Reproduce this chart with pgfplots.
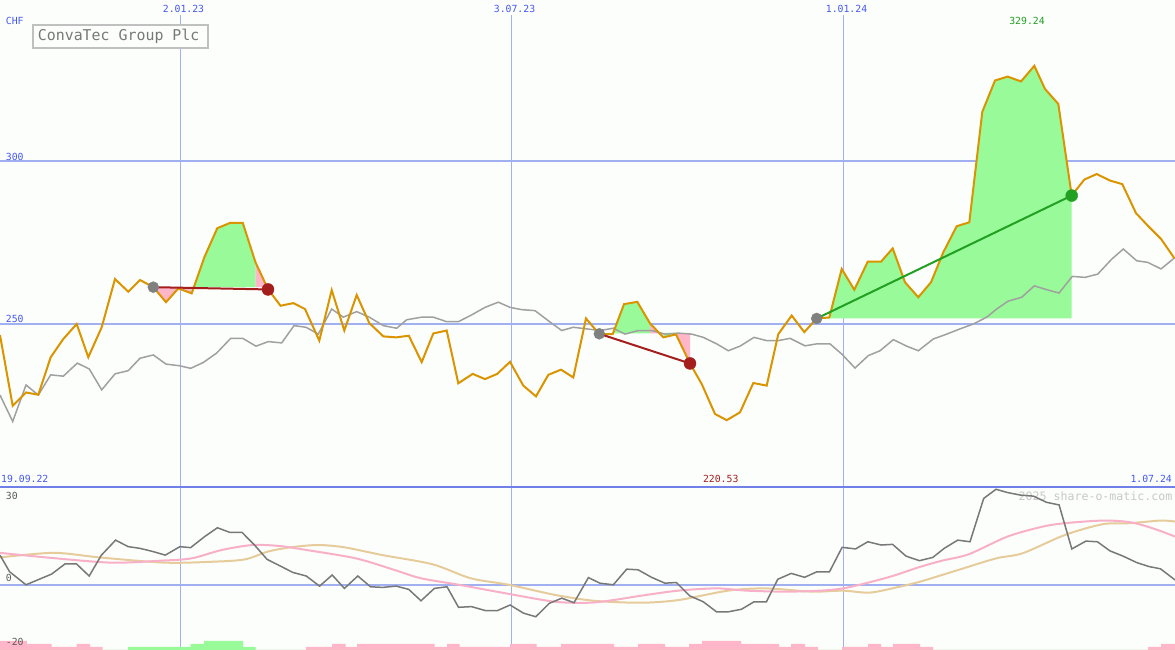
\documentclass[border=0pt]{standalone}
\usepackage{pgfplots}
\pgfplotsset{compat=1.18}
\usepackage{fontspec}
\newfontfamily\mono{DejaVu Sans Mono}
\definecolor{bgc}{RGB}{252,254,252}
\definecolor{gridc}{RGB}{160,176,240}
\definecolor{sepc}{RGB}{112,128,232}
\definecolor{bluet}{RGB}{70,88,240}
\definecolor{orangel}{RGB}{218,148,0}
\definecolor{grayl}{RGB}{160,160,160}
\definecolor{greenf}{RGB}{152,250,152}
\definecolor{pinkf}{RGB}{255,182,200}
\definecolor{darkredc}{RGB}{165,30,30}
\definecolor{greenc}{RGB}{34,160,34}
\definecolor{dotgray}{RGB}{128,128,128}
\definecolor{dgray}{RGB}{120,120,120}
\definecolor{pinkl}{RGB}{248,176,200}
\definecolor{tanl}{RGB}{230,204,154}
\definecolor{wmgray}{RGB}{200,200,200}
\definecolor{labgray}{RGB}{90,90,90}
\definecolor{boxgray}{RGB}{192,192,192}
\definecolor{titlegray}{RGB}{120,120,120}
\pgfplotsset{chartaxis/.style={scale only axis, width=1175pt, xmin=0, xmax=1175,
  axis line style={draw=none}, tick style={draw=none}, xticklabels={}, yticklabels={},
  grid=major, x grid style={gridc, line width=1pt}, y grid style={gridc, line width=2pt}}}
\newcommand{\lf}{\mono\fontsize{9.8}{11}\selectfont}
\begin{document}
\begin{tikzpicture}[x=1pt,y=1pt]
\fill[bgc] (0,0) rectangle (1175,650);
\node[anchor=base, text=wmgray, font=\mono\fontsize{11.6}{13}\selectfont, inner sep=0] at (1095.5,149.5) {2025 share-o-matic.com};
% ---------- lower panel ----------
\begin{axis}[chartaxis, at={(0pt,0pt)}, anchor=south west, height=163pt, ymin=-20, ymax=30, xtick={180.5,511.5,843.5}, ytick={0}]
\addplot[tanl, line width=2pt, smooth] coordinates {
(0,8.4)(53.6,9.8)(99.5,8.4)(164.6,6.8)(214.3,7.1)(245,7.8)(268,10.2)(290.8,11.5)(317.6,12.2)(344.4,11.5)(382.7,9.1)(432.5,6.3)(470.7,2.0)(509,0)(555,-3.1)(594,-4.9)(640,-5.5)(678,-4.7)(728,-1.8)(766,-1.1)(812,-2.1)(843,-1.8)(869.7,-2.4)(896.5,-0.8)(919.4,0.9)(957.7,4.5)(996,8.1)(1022.8,9.7)(1065,15.3)(1103,18.6)(1130,18.9)(1160.5,19.7)(1175,19.4)};
\addplot[pinkl, line width=2pt, smooth] coordinates {
(0,9.8)(46,8.4)(111,6.8)(160.7,7.4)(191.4,8.1)(222,10.7)(252.6,12.2)(279.4,11.9)(306,10.7)(356,8.1)(394,4.6)(421,2.0)(459,0)(509,-2.8)(555,-5.2)(589,-5.5)(613,-4.7)(640,-3.4)(678,-1.8)(716.6,-1.1)(747,-1.8)(785.5,-2.1)(820,-1.8)(843,-1.1)(866,0.5)(892.6,2.7)(919,5.4)(942,7.4)(969,9.4)(1007.5,14.8)(1042,17.8)(1065,18.9)(1103,19.7)(1130,19.2)(1153,17.3)(1175,14.8)};
\addplot[dgray, line width=1.5pt] coordinates {
(0,9.1)(9.6,4.0)(26,0)(51.7,3.3)(65,6.4)(76.5,6.4)(89.2,2.7)(101.4,9.1)(115.6,13.7)(128.2,11.7)(139.7,11.2)(153,10.2)(165.3,9.1)(179.9,11.7)(190.6,11.4)(204.7,14.8)(217.4,17.5)(229.6,16.1)(241.9,16.1)(254.5,12.2)(267.1,7.8)(281.3,5.6)(292.8,3.8)(306.2,2.7)(319.6,-0.4)(332.2,3.0)(344.4,-1.1)(357.8,2.7)(370.5,-0.6)(382.7,-0.8)(396.1,-0.4)(408.7,-1.4)(421,-4.9)(434.4,-1.1)(447,-0.6)(458.5,-6.9)(471.5,-6.7)(485.3,-7.9)(497.5,-7.9)(510.1,-6.2)(523.5,-8.7)(535.8,-9.8)(549.2,-5.7)(561.8,-4.1)(574,-5.5)(588.4,2.2)(599.9,0.5)(613.3,0)(626.7,4.8)(638.1,4.6)(651.5,2.3)(664.9,0.5)(676.4,0.7)(689.8,-3.4)(703.2,-5.2)(716.6,-8.3)(728.1,-8.3)(741.5,-7.5)(754.1,-5.2)(766.4,-5.2)(777.8,1.7)(791.2,3.5)(804.6,2.3)(816.9,4.0)(829.5,4.0)(842.1,11.5)(855.5,11.0)(867.8,13.2)(881.2,12.2)(892.6,12.4)(906,8.8)(919.4,7.4)(932.8,8.4)(944.3,11.2)(957.7,13.7)(970,13.2)(983.7,26.5)(996,29.3)(1007.5,28.3)(1020.8,27.5)(1033.5,27.2)(1046.5,25.3)(1059.1,24.5)(1071.8,11.0)(1085.9,13.4)(1097.4,13.2)(1110,10.4)(1123,8.8)(1136.8,6.8)(1149,5.6)(1160.5,4.9)(1175,1.5)};
\end{axis}
% ---------- bars ----------
\begin{axis}[at={(0pt,0pt)}, anchor=south west, scale only axis, width=1175pt, height=163pt, xmin=0, xmax=1175, ymin=0, ymax=54.333, hide axis]
\addplot[const plot, fill=pinkf, draw=none] coordinates {
(0,3)(26.8,2)(51.7,1)(76.5,2)(90,1)(102.6,0)(306,1)(332,2)(345.6,1)(357,2)(434.7,1)(447,2)(459.6,1)(510,2)(536.5,1)(561,2)(614,1)(638,2)(665,1)(689,2)(702,3)(741,2)(779,1)(791,2)(805,1)(818,0)(842,1)(868,2)(881,1)(893,2)(920,1)(933,0)(1148,1)(1161,2)(1175,2)} \closedcycle;
\addplot[const plot, fill=greenf, draw=none] coordinates {
(0,0)(128.2,1)(190.6,2)(204,3)(243,1)(255.6,0)(1175,0)} \closedcycle;
\end{axis}
% ---------- upper panel ----------
\begin{axis}[chartaxis, at={(0pt,163pt)}, anchor=south west, height=472pt, ymin=200, ymax=344.79, xtick={180.5,511.5,843.5}, ytick={250,300}]
% trade fills
\addplot[fill=pinkf, draw=none] coordinates {(153.3,261.3)(166,256.7)(178.3,260.9)(191.7,259.4)(191.7,261.3)} --cycle;
\addplot[fill=greenf, draw=none] coordinates {(191.7,261.3)(191.7,259.4)(204.5,270.6)(217.3,279.4)(230,281)(242.8,281)(255.5,268.9)(255.5,261.3)} --cycle;
\addplot[fill=pinkf, draw=none] coordinates {(255.5,261.3)(255.5,268.9)(268,260.7)(268,261.3)} --cycle;
\addplot[fill=greenf, draw=none] coordinates {(599.3,247.1)(612.7,246.9)(624,256.1)(637.3,256.8)(650,250.2)(650,247.1)} --cycle;
\addplot[fill=pinkf, draw=none] coordinates {(650,247.1)(650,250.2)(663.3,245.9)(663.3,247.1)} --cycle;
\addplot[fill=greenf, draw=none] coordinates {(663.3,247.3)(663.3,245.9)(676,246.8)(676,247.3)} --cycle;
\addplot[fill=pinkf, draw=none] coordinates {(676,247.1)(676,246.8)(690,237.9)(690,247.1)} --cycle;
\addplot[fill=greenf, draw=none] coordinates {(816.7,251.7)(829.3,252.0)(841.7,266.9)(854.3,260.5)(867.7,269.1)(881,269.1)(892.7,273.2)(905,262.8)(918.3,258.2)(931,262.8)(943.3,272.0)(956.7,280.0)(969.3,281.2)(982.3,315.1)(995,324.7)(1007.7,325.9)(1021,324.4)(1034.3,329.2)(1045,322.1)(1058.3,317.5)(1071.7,289.4)(1071.7,251.7)} --cycle;
% comparison line
\addplot[grayl, line width=1.5pt] coordinates {
(0,228.2)(12.7,220.1)(26,231.3)(38.3,228.2)(50.7,234.4)(63.3,234.0)(77.3,238.0)(89.3,236.2)(101.7,229.8)(115,234.7)(128.3,235.7)(140,239.5)(153.3,240.5)(166,237.7)(179.3,237.2)(190.7,236.4)(203.3,238.2)(216.7,241.1)(230.7,245.6)(242.7,245.6)(256,243.2)(268.3,244.6)(281.7,244.2)(294,249.5)(306,249.0)(318.3,246.9)(331.7,254.6)(343.3,252.1)(356.7,253.8)(369.3,252.1)(383.3,249.5)(396.7,248.7)(406.7,251.3)(421.7,252.1)(433.3,252.1)(446.7,250.7)(458.3,250.7)(471.7,252.8)(485,255.1)(498.3,256.7)(510,255.1)(521.7,254.4)(535,254.1)(548.3,251.0)(561.7,248.0)(573.3,249.0)(586.7,248.5)(600,248.0)(613.3,248.7)(625,246.9)(638.3,248.0)(651.7,248.0)(665,246.9)(678.3,247.2)(691.7,246.9)(703.3,245.9)(716.7,243.9)(728.3,241.8)(740,243.2)(754,245.9)(766.7,244.9)(778.3,244.9)(790,245.6)(805,243.3)(816.7,243.9)(830,243.9)(841.7,240.8)(855,236.5)(868.3,240.3)(880,241.8)(893.3,245.2)(906.7,243.2)(918.3,241.8)(933.3,245.4)(946.7,246.9)(960,248.5)(973.3,250.0)(986.7,252.1)(996.7,254.6)(1008,257.0)(1021.7,258.2)(1034.3,261.7)(1047,260.5)(1059,259.5)(1072.3,264.6)(1085,264.3)(1097.7,265.3)(1111.7,269.9)(1123.3,273.0)(1136.7,269.4)(1147.7,268.9)(1161,266.9)(1175,270.4)};
% entry dots
\addplot[only marks, mark=*, mark size=5.5pt, color=dotgray] coordinates {(153.3,261.3)(599.3,247.0)(816.7,251.7)};
% price line
\addplot[orangel, line width=2pt] coordinates {
(0,246.6)(12.7,224.9)(26,229.0)(38.3,228.3)(50.7,239.8)(63.3,245.4)(76.7,250.0)(88.3,239.8)(101.7,249.0)(115,263.8)(128.3,259.9)(140,263.5)(153.3,261.3)(166,256.7)(178.3,260.9)(191.7,259.4)(204.5,270.6)(217.3,279.4)(230,281.0)(242.8,281.0)(255.5,268.9)(268,260.7)(280.5,255.6)(293.3,256.4)(305,254.6)(319.3,244.9)(331.7,260.4)(344.3,248.0)(356.7,258.9)(369.3,250.3)(383.3,246.2)(396,245.9)(408.8,246.4)(421.7,238.3)(433.3,247.1)(446.7,248.0)(458.3,231.8)(472.7,234.7)(485,233.1)(497.3,234.7)(510,238.4)(523.3,231.1)(536,227.8)(548.3,234.4)(561,236.0)(573.3,233.6)(586,251.7)(599.3,246.9)(612.7,246.9)(624,256.1)(637.3,256.8)(650,250.2)(663.3,245.9)(676,246.8)(690,237.9)(701.7,231.6)(715,222.4)(726.7,220.5)(740,222.9)(753.3,231.9)(766.7,231.1)(778.3,246.9)(791.7,252.6)(804.3,247.5)(816.7,251.7)(829.3,252.0)(841.7,266.9)(854.3,260.5)(867.7,269.1)(881,269.1)(892.7,273.2)(905,262.8)(918.3,258.2)(931,262.8)(943.3,272.0)(956.7,280.0)(969.3,281.2)(982.3,315.1)(995,324.7)(1007.7,325.9)(1021,324.4)(1034.3,329.2)(1045,322.1)(1058.3,317.5)(1071.7,289.4)(1084.3,294.3)(1096.7,296.0)(1110,294.0)(1122.3,292.9)(1136,284.0)(1148.3,280.0)(1161,276.1)(1174.3,270.2)};
% trade lines
\addplot[darkredc, line width=2pt] coordinates {(153.3,261.3)(268,260.6)};
\addplot[darkredc, line width=2pt] coordinates {(599.3,247.0)(690,237.9)};
\addplot[greenc, line width=2pt] coordinates {(816.7,251.7)(1071.7,289.4)};
% exit dots
\addplot[only marks, mark=*, mark size=6pt, color=darkredc] coordinates {(268,260.6)(690,237.9)};
\addplot[only marks, mark=*, mark size=6pt, color=greenc] coordinates {(1071.7,289.4)};
\end{axis}
% separator
\draw[sepc, line width=2pt] (0,163) -- (1175,163);
% title box
\draw[boxgray, line width=2pt, fill=bgc] (33,625) rectangle (207.7,602.3);
\node[anchor=base west, inner sep=0, text=titlegray, font=\mono\fontsize{14.9}{16}\selectfont] at (37.7,609.3) {ConvaTec Group Plc};
% labels
\node[anchor=base, inner sep=0, text=bluet, font=\lf] at (183.5,637.3) {2.01.23};
\node[anchor=base, inner sep=0, text=bluet, font=\lf] at (514.5,637.3) {3.07.23};
\node[anchor=base, inner sep=0, text=bluet, font=\lf] at (846.5,637.3) {1.01.24};
\node[anchor=base west, inner sep=0, text=bluet, font=\lf] at (5.7,625) {CHF};
\node[anchor=base west, inner sep=0, text=bluet, font=\lf] at (5.7,489.7) {300};
\node[anchor=base west, inner sep=0, text=bluet, font=\lf] at (5.7,327.3) {250};
\node[anchor=base, inner sep=0, text=greenc, font=\lf] at (1027,625) {329.24};
\node[anchor=base west, inner sep=0, text=bluet, font=\lf] at (1,167) {19.09.22};
\node[anchor=base, inner sep=0, text=darkredc, font=\lf] at (720.7,167) {220.53};
\node[anchor=base east, inner sep=0, text=bluet, font=\lf] at (1172,167) {1.07.24};
\node[anchor=base west, inner sep=0, text=labgray, font=\lf] at (5.7,150) {30};
\node[anchor=base west, inner sep=0, text=labgray, font=\lf] at (5.7,68.3) {0};
\node[anchor=base west, inner sep=0, text=labgray, font=\lf] at (5.7,4.3) {-20};
\pgfresetboundingbox
\path[use as bounding box] (0,0) rectangle (1175,650);
\end{tikzpicture}
\end{document}
